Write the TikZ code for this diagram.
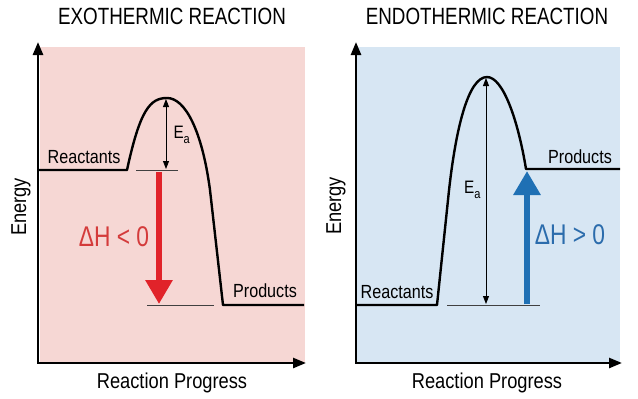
\documentclass[tikz,border=0pt]{standalone}
\usepackage{fontspec}
\setmainfont{Liberation Sans}[FakeStretch=0.85]
\newfontfamily\condfont{Liberation Sans}[FakeStretch=0.80]
\usetikzlibrary{arrows.meta}
\definecolor{pinkbg}{HTML}{F6D7D4}
\definecolor{bluebg}{HTML}{D7E6F3}
\definecolor{redarrow}{HTML}{E1232A}
\definecolor{redtext}{HTML}{D43B3B}
\definecolor{bluearrow}{HTML}{1F70B4}
\definecolor{bluetext}{HTML}{2B6CAC}
\begin{document}
\begin{tikzpicture}[x=1pt,y=-1pt,
  axis/.style={line width=2.5pt,line join=miter,{Triangle[length=13pt,width=10pt]}-{Triangle[length=13pt,width=10pt]}},
  curve/.style={line width=2.4pt,line join=round},
  guide/.style={line width=0.9pt,draw=black!75},
  ea/.style={line width=0.9pt,{Triangle[length=8pt,width=6pt]}-{Triangle[length=8pt,width=6pt]}},
  bigarrow/.style={line width=6pt,-{Triangle[length=24pt,width=26pt]}},
  title/.style={font=\condfont\fontsize{23.5}{27}\selectfont},
  axlabel/.style={font=\fontsize{21.5}{25}\selectfont},
  lvl/.style={font=\fontsize{19}{22}\selectfont},
  dh/.style={font=\condfont\fontsize{28.5}{31}\selectfont},
  ealab/.style={font=\fontsize{18}{20}\selectfont},
]
\useasboundingbox (0,0) rectangle (638,399);
\fill[white] (0,0) rectangle (638,399);
% backgrounds
\fill[pinkbg] (40,47) rectangle (305,363);
\fill[bluebg] (357,47) rectangle (620,363);

% ---------- Exothermic ----------
\coordinate (oL) at (38,363);
\coordinate (yL) at (38,42);
\coordinate (xL) at (306,363);
\draw[axis] (yL) -- (oL) -- (xL);

\coordinate (rL0) at (38,170);
\coordinate (rL1) at (127,170);
\coordinate (pkL) at (167,98);
\coordinate (dL) at (210,190);
\coordinate (pL0) at (223,305);
\coordinate (pL1) at (304,305);
\draw[curve] (rL0) -- (rL1) .. controls (140,110) and (150,98) .. (pkL)
  .. controls (185,98) and (202,130) .. (dL) -- (pL0) -- (pL1);

\coordinate (gL0) at (136,170);
\coordinate (gL1) at (178,170);
\draw[guide] (gL0) -- (gL1);
\coordinate (gL2) at (147,305);
\coordinate (gL3) at (214,305);
\draw[guide] (gL2) -- (gL3);

\coordinate (eaLt) at (166,99);
\coordinate (eaLb) at (166,169);
\draw[ea] (eaLt) -- (eaLb);

\coordinate (dhLs) at (159,172);
\coordinate (dhLe) at (159,304);
\draw[bigarrow,redarrow] (dhLs) -- (dhLe);

\node[title] (tL) at (172,16) {EXOTHERMIC REACTION};
\node[axlabel,rotate=90] (enL) at (21,207) {Energy};
\node[axlabel] (rpL) at (172,383) {Reaction Progress};
\node[lvl] (reL) at (84,157) {Reactants};
\node[lvl] (prL) at (265,291) {Products};
\node[dh,text=redtext] (dhL) at (114,237) {ΔH < 0};
\node[ealab,anchor=west] (eaL) at (170,135) {E\raisebox{-5pt}{\fontsize{13}{13}\selectfont a}};

% ---------- Endothermic ----------
\coordinate (oR) at (356,363);
\coordinate (yR) at (356,42);
\coordinate (xR) at (622,363);
\draw[axis] (yR) -- (oR) -- (xR);

\coordinate (rR0) at (356,305);
\coordinate (rR1) at (437,305);
\coordinate (uR) at (448,200);
\coordinate (pkR) at (487,77);
\coordinate (pR0) at (526,169);
\coordinate (pR1) at (620,169);
\draw[curve] (rR0) -- (rR1) -- (uR) .. controls (455,130) and (468,77) .. (pkR)
  .. controls (503,77) and (518,120) .. (pR0) -- (pR1);

\coordinate (gR0) at (447,305);
\coordinate (gR1) at (540,305);
\draw[guide] (gR0) -- (gR1);

\coordinate (eaRt) at (486,78);
\coordinate (eaRb) at (486,304);
\draw[ea] (eaRt) -- (eaRb);

\coordinate (dhRs) at (527,304);
\coordinate (dhRe) at (527,171);
\draw[bigarrow,bluearrow] (dhRs) -- (dhRe);

\node[title] (tR) at (487,16) {ENDOTHERMIC REACTION};
\node[axlabel,rotate=90] (enR) at (336,206) {Energy};
\node[axlabel] (rpR) at (487,383) {Reaction Progress};
\node[lvl] (prR) at (580,157) {Products};
\node[lvl] (reR) at (397,292) {Reactants};
\node[dh,text=bluetext] (dhR) at (570,235) {ΔH > 0};
\node[ealab,anchor=east] (eaR) at (484,190) {E\raisebox{-5pt}{\fontsize{13}{13}\selectfont a}};
\end{tikzpicture}
\end{document}
